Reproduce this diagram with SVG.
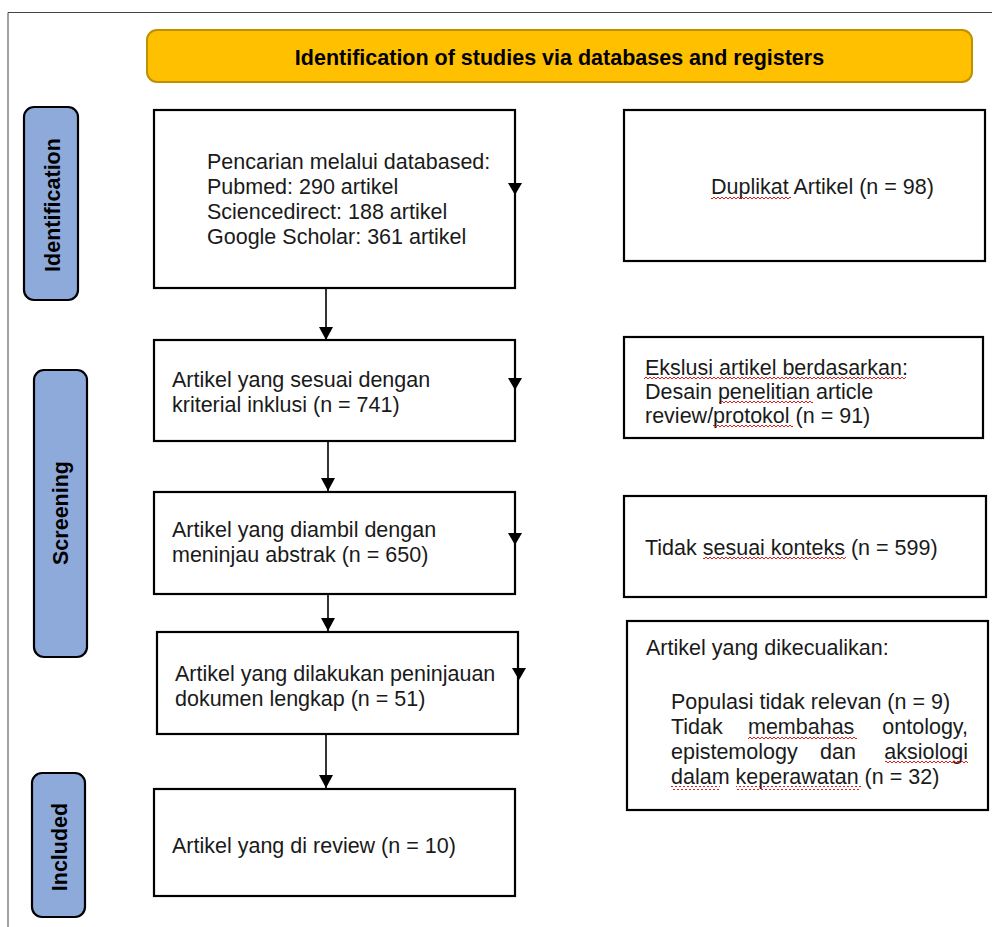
<svg xmlns="http://www.w3.org/2000/svg" width="992" height="927" viewBox="0 0 992 927">
<style>
text{font-family:"Liberation Sans",Arial,sans-serif;font-size:21.5px;fill:#1a1a1a}
.b{font-weight:bold;fill:#000}
.box{fill:#fff;stroke:#000;stroke-width:2.2}
.pill{fill:#8EAADB;stroke:#000;stroke-width:2.2}
.line{stroke:#000;stroke-width:1.6;fill:none}
.head{fill:#000}
.sq{fill:url(#sq)}
</style>
<defs>
<pattern id="sq" width="4" height="4" patternUnits="userSpaceOnUse">
<path d="M0,3 L2,1 L4,3" fill="none" stroke="#e00000" stroke-width="0.9"/>
</pattern>
<marker id="ah" markerWidth="13" markerHeight="14" refX="13" refY="7" orient="auto" markerUnits="userSpaceOnUse" viewBox="0 0 13 14">
<path d="M0,0 L13,7 L0,14 Z" fill="#000"/>
</marker>
</defs>
<rect width="992" height="927" fill="#fff"/>
<path d="M8,927 L8,12.5 L992,12.5" fill="none" stroke="#444" stroke-width="1"/>

<g id="header">
<rect x="147" y="30" width="825" height="52" rx="10" fill="#FFC000" stroke="#BF9000" stroke-width="2"/>
<text class="b" x="559.5" y="65" text-anchor="middle">Identification of studies via databases and registers</text>
</g>

<g id="phase-identification">
<rect class="pill" x="24" y="107" width="54" height="193" rx="10"/>
<text class="b" x="52" y="205" dy="7.7" text-anchor="middle" transform="rotate(-90 52 205)">Identification</text>
</g>
<g id="phase-screening">
<rect class="pill" x="34" y="370" width="53" height="287" rx="10"/>
<text class="b" x="60" y="513" dy="7.7" text-anchor="middle" transform="rotate(-90 60 513)">Screening</text>
</g>
<g id="phase-included">
<rect class="pill" x="32" y="773" width="53" height="144" rx="10"/>
<text class="b" x="59" y="847" dy="7.7" text-anchor="middle" transform="rotate(-90 59 847)">Included</text>
</g>

<g id="box-search">
<rect class="box" x="154" y="110" width="361" height="178"/>
<text x="207" y="169">Pencarian melalui databased:</text>
<text x="207" y="194">Pubmed: 290 artikel</text>
<text x="207" y="219">Sciencedirect: 188 artikel</text>
<text x="207" y="244">Google Scholar: 361 artikel</text>
</g>

<g id="box-duplicates">
<rect class="box" x="624" y="110" width="361" height="151"/>
<text x="711" y="194">Duplikat Artikel (n = 98)</text>
<rect class="sq" x="711" y="195" width="80" height="4"/>
</g>

<g id="box-inclusion">
<rect class="box" x="154" y="340" width="361" height="101"/>
<text x="172" y="387">Artikel yang sesuai dengan</text>
<text x="172" y="412">kriterial inklusi (n = 741)</text>
</g>

<g id="box-exclusion-design">
<rect class="box" x="624" y="337" width="359" height="101"/>
<text x="645" y="375">Ekslusi artikel berdasarkan:</text>
<text x="645" y="399">Desain penelitian article</text>
<text x="645" y="423">review/protokol (n = 91)</text>
<rect class="sq" x="644" y="376" width="262" height="4"/>
<rect class="sq" x="719" y="400" width="94" height="4"/>
<rect class="sq" x="713" y="424" width="80" height="4"/>
</g>

<g id="box-abstract">
<rect class="box" x="154" y="492" width="361" height="102"/>
<text x="172" y="537">Artikel yang diambil dengan</text>
<text x="172" y="562">meninjau abstrak (n = 650)</text>
</g>

<g id="box-context">
<rect class="box" x="624" y="496" width="362" height="101"/>
<text x="645" y="555">Tidak sesuai konteks (n = 599)</text>
<rect class="sq" x="703" y="556" width="143" height="4"/>
</g>

<g id="box-fulltext">
<rect class="box" x="157" y="632" width="361" height="102"/>
<text x="175" y="681">Artikel yang dilakukan peninjauan</text>
<text x="175" y="706">dokumen lengkap (n = 51)</text>
</g>

<g id="box-excluded">
<rect class="box" x="627" y="621" width="361" height="189"/>
<text x="646" y="655">Artikel yang dikecualikan:</text>
<text x="671" y="709">Populasi tidak relevan (n = 9)</text>
<text x="671" y="734">Tidak</text>
<text x="748" y="734">membahas</text>
<text x="968" y="734" text-anchor="end">ontology,</text>
<text x="671" y="759">epistemology</text>
<text x="820" y="759">dan</text>
<text x="968" y="759" text-anchor="end">aksiologi</text>
<text x="671" y="784">dalam keperawatan (n = 32)</text>
<rect class="sq" x="748" y="736" width="109" height="4"/>
<rect class="sq" x="885" y="761" width="83" height="4"/>
<rect class="sq" x="671" y="786" width="49" height="4"/>
<rect class="sq" x="736" y="786" width="125" height="4"/>
</g>

<g id="box-review">
<rect class="box" x="154" y="789" width="361" height="107"/>
<text x="172" y="853">Artikel yang di review (n = 10)</text>
</g>

<g id="connectors">
<line class="line" x1="326" y1="289" x2="326" y2="340" marker-end="url(#ah)"/>
<line class="line" x1="328" y1="442" x2="328" y2="491" marker-end="url(#ah)"/>
<line class="line" x1="328" y1="595" x2="328" y2="631" marker-end="url(#ah)"/>
<line class="line" x1="326" y1="735" x2="326" y2="788" marker-end="url(#ah)"/>
<path class="head" d="M508,183 L522,183 L515,195 Z"/>
<path class="head" d="M508,378 L522,378 L515,390 Z"/>
<path class="head" d="M508,533 L522,533 L515,545 Z"/>
<path class="head" d="M512,668 L526,668 L519,680 Z"/>
</g>
</svg>
